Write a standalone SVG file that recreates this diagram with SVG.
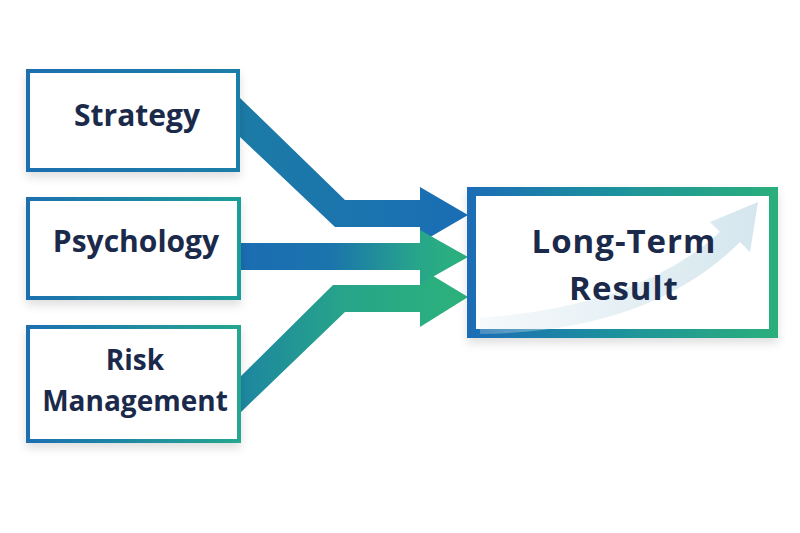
<svg xmlns="http://www.w3.org/2000/svg" width="800" height="533" viewBox="0 0 800 533">
  <defs>
    <filter id="shadow" x="-20%" y="-20%" width="140%" height="150%">
      <feDropShadow dx="0" dy="5" stdDeviation="5" flood-color="#000" flood-opacity="0.13"/>
    </filter>
    <linearGradient id="gBox1" x1="0" y1="0" x2="1" y2="0">
      <stop offset="0" stop-color="#1a6fb0"/>
      <stop offset="1" stop-color="#1b7ea8"/>
    </linearGradient>
    <linearGradient id="gBox2" x1="0" y1="0" x2="1" y2="0">
      <stop offset="0" stop-color="#1a70b0"/>
      <stop offset="1" stop-color="#1f9e98"/>
    </linearGradient>
    <linearGradient id="gBox3" x1="0" y1="0" x2="1" y2="0">
      <stop offset="0" stop-color="#1a6fb2"/>
      <stop offset="1" stop-color="#25a690"/>
    </linearGradient>
    <linearGradient id="gBig" x1="0" y1="0" x2="1" y2="0">
      <stop offset="0" stop-color="#1a6db5"/>
      <stop offset="0.5" stop-color="#1f939c"/>
      <stop offset="1" stop-color="#2aae7c"/>
    </linearGradient>
    <linearGradient id="gA1" gradientUnits="userSpaceOnUse" x1="240" y1="0" x2="468" y2="0">
      <stop offset="0" stop-color="#1c7ba6"/>
      <stop offset="1" stop-color="#1a6db5"/>
    </linearGradient>
    <linearGradient id="gA2" gradientUnits="userSpaceOnUse" x1="240" y1="0" x2="468" y2="0">
      <stop offset="0" stop-color="#1a6db2"/>
      <stop offset="0.4" stop-color="#1b74ac"/>
      <stop offset="0.78" stop-color="#27a68a"/>
      <stop offset="1" stop-color="#2cb27b"/>
    </linearGradient>
    <linearGradient id="gA3" gradientUnits="userSpaceOnUse" x1="240" y1="0" x2="468" y2="0">
      <stop offset="0" stop-color="#1d86a0"/>
      <stop offset="0.45" stop-color="#27a48a"/>
      <stop offset="1" stop-color="#2cb27b"/>
    </linearGradient>
    <linearGradient id="gSwoosh" gradientUnits="userSpaceOnUse" x1="478" y1="0" x2="760" y2="0">
      <stop offset="0" stop-color="#d9e8ee" stop-opacity="0.25"/>
      <stop offset="1" stop-color="#cfe3ec" stop-opacity="0.9"/>
    </linearGradient>
  </defs>
  <style>
    .box { fill: #ffffff; stroke-width: 4; }
    .lbl { font-family: "Open Sans", "Noto Sans", "Liberation Sans", sans-serif; font-weight: 700; fill: #1b2a4b; text-anchor: middle; }
    .big { font-size: 33px; letter-spacing: 1px; }
  </style>
  <rect x="0" y="0" width="800" height="533" fill="#ffffff"/>

  <g id="connectors">
    <polygon points="240,98 345,200 420,200 420,187 468,215 420,243 420,227 335,227 240,137" fill="url(#gA1)"/>
    <polygon points="240,377 333,285 420,285 420,268 468,297 420,327 420,312 345,312 240,413" fill="url(#gA3)"/>
    <polygon points="240,243 420,243 420,230 468,257 420,284 420,270 240,270" fill="url(#gA2)"/>
  </g>

  <g id="strategy">
    <rect class="box" x="28" y="71" width="210" height="99" stroke="url(#gBox1)" filter="url(#shadow)"/>
    <text class="lbl" x="137" y="126" font-size="30">Strategy</text>
  </g>
  <g id="psychology">
    <rect class="box" x="28" y="199" width="211" height="99" stroke="url(#gBox2)" filter="url(#shadow)"/>
    <text class="lbl" x="136" y="252" font-size="30">Psychology</text>
  </g>
  <g id="risk">
    <rect class="box" x="28" y="327" width="211" height="114" stroke="url(#gBox3)" filter="url(#shadow)"/>
    <text class="lbl" x="135" y="370" font-size="28">Risk</text>
    <text class="lbl" x="135" y="411" font-size="28">Management</text>
  </g>
  <g id="result">
    <rect x="471.5" y="191.5" width="302" height="142" fill="#ffffff" stroke="url(#gBig)" stroke-width="9" filter="url(#shadow)"/>
    <path d="M 480 318 Q 640 306 720 232 L 710 222 L 758 202 L 750 252 L 740 242 Q 650 332 480 334 Z" fill="url(#gSwoosh)"/>
    <text class="lbl big" x="624" y="253">Long-Term</text>
    <text class="lbl big" x="624" y="300">Result</text>
  </g>
</svg>
